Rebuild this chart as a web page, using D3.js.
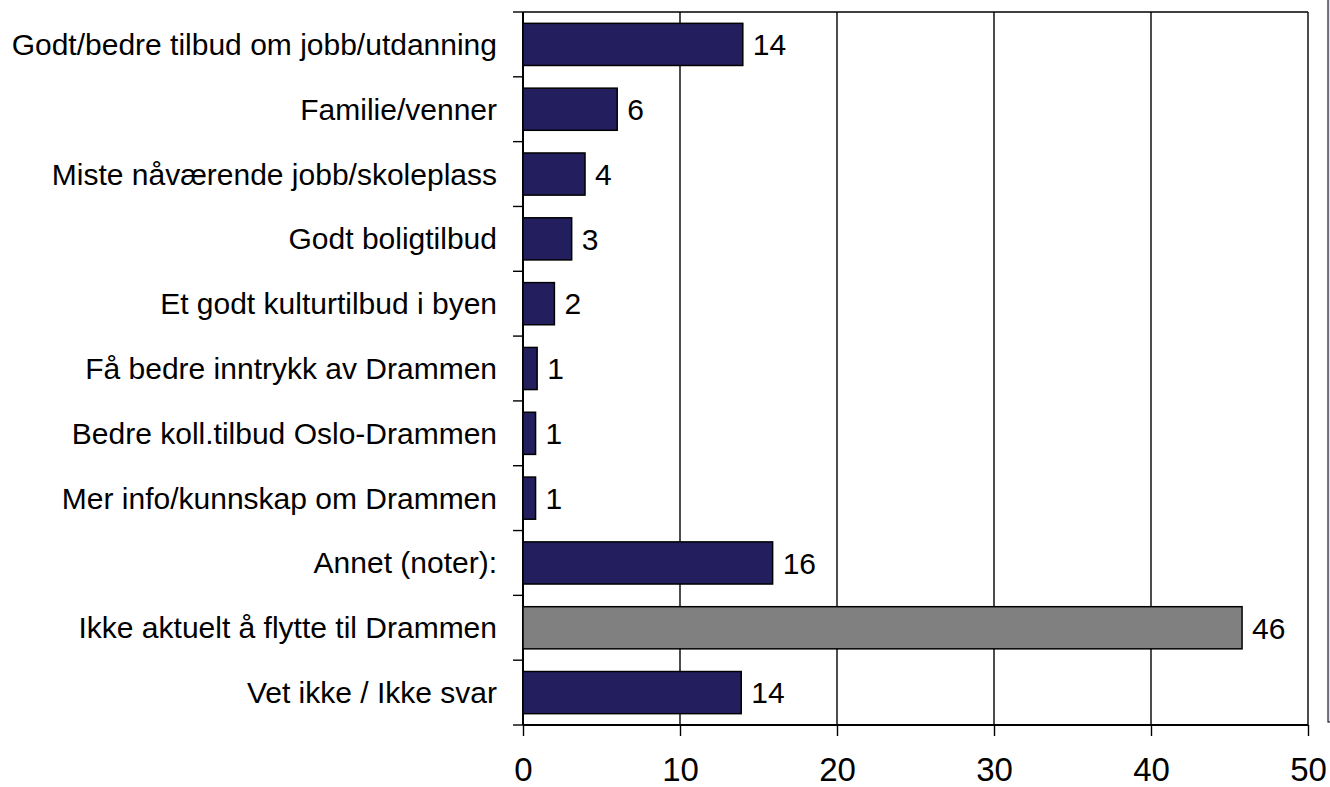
<!DOCTYPE html>
<html>
<head>
<meta charset="utf-8">
<script src="https://cdn.jsdelivr.net/npm/d3@7"></script>
<style>
  body { margin: 0; background: #fff; }
  text { font-family: "Liberation Sans", Arial, sans-serif; fill: #000; }
</style>
</head>
<body>
<div class="chart"></div>
<script>
// Data
var categories = [
    "Godt/bedre tilbud om jobb/utdanning",
    "Familie/venner",
    "Miste nåværende jobb/skoleplass",
    "Godt boligtilbud",
    "Et godt kulturtilbud i byen",
    "Få bedre inntrykk av Drammen",
    "Bedre koll.tilbud Oslo-Drammen",
    "Mer info/kunnskap om Drammen",
    "Annet (noter):",
    "Ikke aktuelt å flytte til Drammen",
    "Vet ikke / Ikke svar"
];
var values = [14.0, 6.0, 3.95, 3.1, 2.0, 0.9, 0.8, 0.8, 15.9, 45.8, 13.9];
var valueLabels = ["14", "6", "4", "3", "2", "1", "1", "1", "16", "46", "14"];
var highlighted = ["Ikke aktuelt å flytte til Drammen"];
var xTicks = [0, 10, 20, 30, 40, 50];

var svgWidth = 1330;
var svgHeight = 787;
var margin = {top: 12, right: 22, bottom: 62, left: 523};

var width = svgWidth - margin.left - margin.right;
var height = svgHeight - margin.top - margin.bottom;

var svg = d3.select(".chart")
    .append("svg")
    .attr("width", svgWidth)
    .attr("height", svgHeight);

var chart = svg.append("g")
    .attr("transform", "translate(" + margin.left + "," + margin.top + ")");

var xScale = d3.scaleLinear()
    .domain([0, 50])
    .range([0, width]);

var yScale = d3.scaleBand()
    .domain(categories)
    .range([0, height])
    .paddingInner(0.35)
    .paddingOuter(0.175);

// vertical gridlines
chart.selectAll(".grid")
    .data(xTicks.slice(1))
    .enter()
    .append("line")
    .attr("class", "grid")
    .attr("x1", function(d) { return xScale(d); })
    .attr("x2", function(d) { return xScale(d); })
    .attr("y1", 0)
    .attr("y2", height)
    .style("stroke", "#000")
    .style("stroke-width", 1.4);

// top frame line
chart.append("line")
    .attr("x1", 0)
    .attr("x2", width)
    .attr("y1", 0)
    .attr("y2", 0)
    .style("stroke", "#000")
    .style("stroke-width", 1.4);

// x axis
var bottomAxis = d3.axisBottom(xScale)
    .tickValues(xTicks)
    .tickSize(11)
    .tickPadding(16);

var xAxis = chart.append("g")
    .attr("transform", "translate(0," + height + ")")
    .call(bottomAxis);
xAxis.select(".domain").remove();
xAxis.append("line")
    .attr("x1", 0).attr("x2", width)
    .style("stroke", "#000").style("stroke-width", 2);
xAxis.selectAll(".tick line").style("stroke-width", 1.4);
xAxis.selectAll(".tick text")
    .style("font-size", "33px")
    .attr("dy", "0.88em");

// y axis with ticks at band boundaries
chart.append("line")
    .attr("x1", 0).attr("x2", 0)
    .attr("y1", 0).attr("y2", height)
    .style("stroke", "#000")
    .style("stroke-width", 2);

var step = yScale.step();
var boundaries = d3.range(categories.length + 1);
chart.selectAll(".ytick")
    .data(boundaries)
    .enter()
    .append("line")
    .attr("class", "ytick")
    .attr("x1", -10).attr("x2", 0)
    .attr("y1", function(d) { return d * step; })
    .attr("y2", function(d) { return d * step; })
    .style("stroke", "#000")
    .style("stroke-width", 1.4);

chart.selectAll(".ylabel")
    .data(categories)
    .enter()
    .append("text")
    .attr("class", "ylabel")
    .attr("x", -26)
    .attr("y", function(d) { return yScale(d) + yScale.bandwidth() / 2; })
    .attr("dy", "0.35em")
    .attr("text-anchor", "end")
    .style("font-size", "30px")
    .text(function(d) { return d; });

// bars
chart.selectAll(".bar")
    .data(values)
    .enter()
    .append("rect")
    .attr("class", "bar")
    .attr("x", 0)
    .attr("y", function(d, i) { return yScale(categories[i]); })
    .attr("width", function(d) { return xScale(d); })
    .attr("height", yScale.bandwidth())
    .style("fill", function(d, i) {
        return highlighted.indexOf(categories[i]) >= 0 ? "#808080" : "#231f5f";
    })
    .style("stroke", "#000")
    .style("stroke-width", 1.5);

chart.selectAll(".barLabel")
    .data(values)
    .enter()
    .append("text")
    .attr("class", "barLabel")
    .attr("x", function(d) { return xScale(d) + 10; })
    .attr("y", function(d, i) { return yScale(categories[i]) + yScale.bandwidth() / 2; })
    .attr("dy", "0.36em")
    .style("font-size", "30px")
    .text(function(d, i) { return valueLabels[i]; });

// clipped edge of the legend box on the right
svg.append("rect")
    .attr("x", 1328)
    .attr("y", -5)
    .attr("width", 10)
    .attr("height", 727)
    .style("fill", "#e4e0f4")
    .style("stroke", "#222")
    .style("stroke-width", 1.2);
</script>
</body>
</html>
